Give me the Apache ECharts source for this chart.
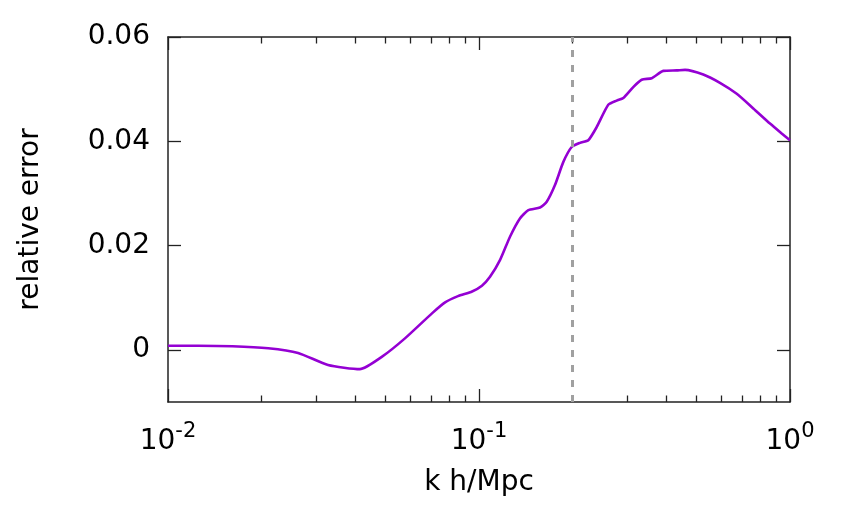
<!DOCTYPE html>
<html>
<head>
<meta charset="utf-8">
<script src="https://cdn.jsdelivr.net/npm/echarts@6/dist/echarts.min.js"></script>
<style>html,body{margin:0;padding:0;background:#fff;}#c{width:843px;height:506px;}</style>
</head>
<body>
<div id="c"></div>
<script>
// wavenumbers k (h/Mpc)
const kValues = [0.01, 0.0125, 0.0161, 0.0210, 0.0262, 0.0327, 0.0414, 0.0488, 0.0578, 0.0706,
  0.0778, 0.0856, 0.0950, 0.1022, 0.1085, 0.1168, 0.1258, 0.1354, 0.1441, 0.1571,
  0.1651, 0.1755, 0.1866, 0.1986, 0.2113, 0.2246, 0.2389, 0.2604, 0.2772, 0.2911,
  0.3133, 0.3335, 0.3592, 0.3914, 0.4322, 0.4597, 0.5262, 0.5954, 0.6741, 0.7620,
  0.8623, 0.9404, 1.0];
// relative error
const errValues = [0.0008, 0.0008, 0.0007, 0.0003, -0.0006, -0.0029, -0.0037, -0.0013, 0.0022, 0.0070,
  0.0091, 0.0103, 0.0112, 0.0123, 0.0140, 0.0172, 0.0217, 0.0252, 0.0268, 0.0273,
  0.0284, 0.0316, 0.0360, 0.0389, 0.0397, 0.0402, 0.0427, 0.0470, 0.0478, 0.0483,
  0.0504, 0.0518, 0.0521, 0.0535, 0.0536, 0.0537, 0.0528, 0.0512, 0.0491, 0.0463,
  0.0434, 0.0415, 0.0402];
const markerK = 0.2;
const xMajorTicks = [0.01, 0.1, 1];
const xMinorTicks = [0.02, 0.03, 0.04, 0.05, 0.06, 0.07, 0.08, 0.09, 0.2, 0.3, 0.4, 0.5, 0.6, 0.7, 0.8, 0.9];
const yTicks = [0, 0.02, 0.04, 0.06];
const yTickLabels = ['0', '0.02', '0.04', '0.06'];
const xTitle = 'k h/Mpc';
const yTitle = 'relative error';

const FONT = 'DejaVu Sans';
const FS = 28;
const AX = '#222';
const chart = echarts.init(document.getElementById('c'), null, {renderer: 'canvas'});

function xAxisDef(pos, ticks, len, showLabel, showLine) {
  return {
    type: 'log', logBase: 10, min: 0.01, max: 1, position: pos,
    axisLine: {show: showLine, onZero: false, lineStyle: {color: AX, width: 1.5}},
    axisTick: {show: true, inside: true, length: len, customValues: ticks, lineStyle: {color: AX, width: 1.3}},
    minorTick: {show: false},
    splitLine: {show: false},
    axisLabel: showLabel ? {
      show: true, customValues: xMajorTicks, margin: 19,
      formatter: function (v) { return '{b|10}{s|' + Math.round(Math.log10(v)) + '}'; },
      rich: {
        b: {fontSize: FS, fontFamily: FONT, color: '#000', verticalAlign: 'bottom', lineHeight: 35},
        s: {fontSize: 21, fontFamily: FONT, color: '#000', verticalAlign: 'top', lineHeight: 35}
      }
    } : {show: false}
  };
}

const option = {
  animation: false,
  backgroundColor: '#fff',
  grid: {left: 168, right: 53, top: 37, bottom: 104, containLabel: false},
  xAxis: [
    Object.assign(xAxisDef('bottom', xMajorTicks, 13, true, true), {
      name: xTitle, nameLocation: 'middle', nameGap: 67,
      nameTextStyle: {fontSize: FS, fontFamily: FONT, color: '#000'}
    }),
    xAxisDef('bottom', xMinorTicks, 6.5, false, false),
    xAxisDef('top', xMajorTicks, 13, false, true),
    xAxisDef('top', xMinorTicks, 6.5, false, false)
  ],
  yAxis: [
    {
      type: 'value', min: -0.01, max: 0.06, position: 'left',
      name: yTitle, nameLocation: 'middle', nameGap: 123,
      nameTextStyle: {fontSize: FS, fontFamily: FONT, color: '#000'},
      axisLine: {show: true, onZero: false, lineStyle: {color: AX, width: 1.5}},
      axisTick: {show: true, inside: true, length: 13, customValues: yTicks, lineStyle: {color: AX, width: 1.3}},
      splitLine: {show: false},
      axisLabel: {
        show: true, customValues: yTicks, margin: 18, fontSize: FS, fontFamily: FONT, color: '#000',
        formatter: function (v) { const i = yTicks.findIndex(t => Math.abs(t - v) < 1e-9); return i >= 0 ? yTickLabels[i] : ''; }
      }
    },
    {
      type: 'value', min: -0.01, max: 0.06, position: 'right',
      axisLine: {show: true, onZero: false, lineStyle: {color: AX, width: 1.5}},
      axisTick: {show: true, inside: true, length: 13, customValues: yTicks, lineStyle: {color: AX, width: 1.3}},
      splitLine: {show: false},
      axisLabel: {show: false}
    }
  ],
  series: [{
    type: 'line',
    xAxisIndex: 0, yAxisIndex: 0,
    data: kValues.map((k, i) => [k, errValues[i]]),
    showSymbol: false, symbol: 'none',
    smooth: 0.2,
    lineStyle: {color: '#9400d3', width: 2.6},
    markLine: {
      silent: true, symbol: 'none', label: {show: false},
      lineStyle: {color: '#a0a0a0', width: 3, type: [7, 8]},
      data: [{xAxis: markerK}]
    }
  }]
};
chart.setOption(option);
</script>
</body>
</html>
